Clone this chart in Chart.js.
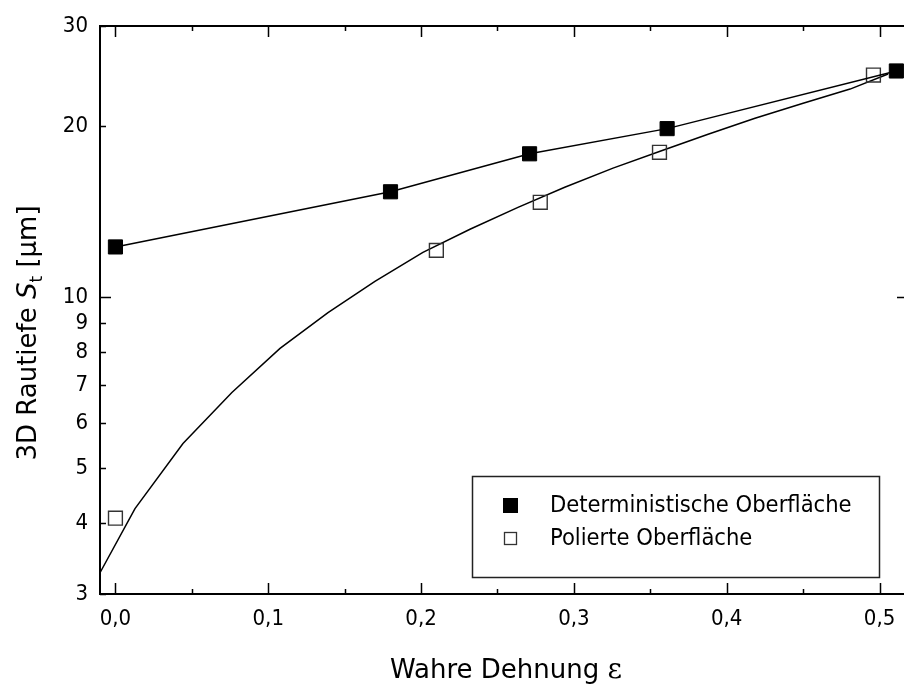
<!DOCTYPE html>
<html>
<head>
<meta charset="utf-8">
<title>3D Rautiefe</title>
<script src="https://cdn.jsdelivr.net/npm/chart.js"></script>
<style>
  html, body { margin: 0; padding: 0; background: #fff; }
  #wrap { width: 904px; height: 684px; }
</style>
</head>
<body>
<div id="wrap"><canvas id="rauChart" width="904" height="684"></canvas></div>
<script>
// measured points
const detStrain = [0.0, 0.18, 0.271, 0.361, 0.511];
const detDepth = [12.25, 15.32, 17.87, 19.79, 25.0];
const polStrain = [0.0, 0.21, 0.278, 0.356, 0.496];
const polDepth = [4.08, 12.08, 14.68, 17.98, 24.59];
// fitted curve for the polished surface
const fitStrain = [-0.0101, 0.0128, 0.0442, 0.0762, 0.1077, 0.1391, 0.1698, 0.2012, 0.232,
                   0.2634, 0.294, 0.3256, 0.3564, 0.3878, 0.4185, 0.45, 0.4807, 0.5056];
const fitDepth = [3.27, 4.24, 5.52, 6.79, 8.12, 9.39, 10.65, 11.98, 13.16,
                  14.38, 15.6, 16.86, 18.06, 19.35, 20.64, 21.94, 23.23, 24.69];

const xTicks = [0, 0.1, 0.2, 0.3, 0.4, 0.5];
const xMinor = [0.05, 0.15, 0.25, 0.35, 0.45];
const yTicks = [3, 4, 5, 6, 7, 8, 9, 10, 20, 30];
const seriesNames = ['Deterministische Oberfläche', 'Polierte Oberfläche'];

const SANS = "'DejaVu Sans Condensed', 'DejaVu Sans', sans-serif";
const TITLE = "'DejaVu Sans', sans-serif";

function pts(xs, ys) {
    return xs.map((x, i) => ({ x: x, y: ys[i] }));
}

// axis frame with inward ticks
const framePlugin = {
    id: 'frame',
    afterDatasetsDraw(chart) {
        const { ctx, chartArea: a, scales: { x, y } } = chart;
        ctx.save();
        ctx.strokeStyle = '#000';
        ctx.lineWidth = 2;
        ctx.beginPath();
        ctx.moveTo(a.right, a.top);
        ctx.lineTo(a.left, a.top);
        ctx.lineTo(a.left, a.bottom);
        ctx.lineTo(a.right, a.bottom);
        ctx.stroke();

        ctx.lineWidth = 1.5;
        ctx.beginPath();
        xTicks.forEach(v => {
            const px = Math.round(x.getPixelForValue(v)) + 0.5;
            ctx.moveTo(px, a.bottom); ctx.lineTo(px, a.bottom - 11);
            ctx.moveTo(px, a.top); ctx.lineTo(px, a.top + 11);
        });
        xMinor.forEach(v => {
            const px = Math.round(x.getPixelForValue(v)) + 0.5;
            ctx.moveTo(px, a.bottom); ctx.lineTo(px, a.bottom - 5);
            ctx.moveTo(px, a.top); ctx.lineTo(px, a.top + 5);
        });
        yTicks.forEach(v => {
            const py = Math.round(y.getPixelForValue(v)) + 0.5;
            const len = v === 10 ? 11 : 6;
            ctx.moveTo(a.left, py); ctx.lineTo(a.left + len, py);
        });
        const p10 = Math.round(y.getPixelForValue(10)) + 0.5;
        ctx.moveTo(a.right, p10); ctx.lineTo(a.right - 7, p10);
        ctx.stroke();
        ctx.restore();
    }
};

// legend box and axis titles
const labelPlugin = {
    id: 'labels',
    afterDraw(chart) {
        const { ctx } = chart;
        ctx.save();

        // legend
        const bx = 472.5, by = 476.5, bw = 407, bh = 101;
        ctx.strokeStyle = '#222';
        ctx.lineWidth = 1.5;
        ctx.strokeRect(bx, by, bw, bh);
        ctx.fillStyle = '#000';
        ctx.fillRect(503, 498, 15, 15);
        ctx.strokeStyle = '#333';
        ctx.lineWidth = 1.3;
        ctx.strokeRect(504.5, 532.5, 12, 12);
        ctx.font = '23.5px ' + SANS;
        ctx.fillStyle = '#000';
        ctx.textBaseline = 'middle';
        ctx.textAlign = 'left';
        ctx.fillText(seriesNames[0], 550, 506);
        ctx.fillText(seriesNames[1], 550, 539);

        // x title
        ctx.textBaseline = 'alphabetic';
        const xMain = 'Wahre Dehnung ';
        ctx.font = '26px ' + TITLE;
        const w1 = ctx.measureText(xMain).width;
        ctx.font = '28px "DejaVu Serif", serif';
        const w2 = ctx.measureText('ε').width;
        const sx = 506 - (w1 + w2) / 2;
        ctx.font = '26px ' + TITLE;
        ctx.fillText(xMain, sx, 678);
        ctx.font = '28px "DejaVu Serif", serif';
        ctx.fillText('ε', sx + w1, 678);

        // y title, rotated
        ctx.translate(36, 333);
        ctx.rotate(-Math.PI / 2);
        const parts = [
            { t: '3D Rautiefe ', f: '26px ' + TITLE, dy: 0 },
            { t: 'S', f: 'italic 26px ' + TITLE, dy: 0 },
            { t: 't', f: '17px ' + TITLE, dy: 6 },
            { t: ' [µm]', f: '26px ' + TITLE, dy: 0 }
        ];
        let total = 0;
        parts.forEach(p => { ctx.font = p.f; p.w = ctx.measureText(p.t).width; total += p.w; });
        let cx = -total / 2;
        parts.forEach(p => {
            ctx.font = p.f;
            ctx.fillText(p.t, cx, p.dy);
            cx += p.w;
        });
        ctx.restore();
    }
};

const ctx = document.getElementById('rauChart').getContext('2d');

new Chart(ctx, {
    type: 'scatter',
    data: {
        datasets: [
            {
                label: seriesNames[0],
                data: pts(detStrain, detDepth),
                showLine: true,
                borderColor: '#000',
                borderWidth: 1.5,
                pointStyle: 'rect',
                pointRadius: 10,
                pointBackgroundColor: '#000',
                pointBorderColor: '#000',
                pointBorderWidth: 1
            },
            {
                label: seriesNames[1],
                data: pts(polStrain, polDepth),
                showLine: false,
                pointStyle: 'rect',
                pointRadius: 9.8,
                pointBackgroundColor: 'rgba(0,0,0,0)',
                pointBorderColor: '#333',
                pointBorderWidth: 1.4
            },
            {
                label: 'Fit',
                data: pts(fitStrain, fitDepth),
                showLine: true,
                borderColor: '#000',
                borderWidth: 1.5,
                pointRadius: 0,
                tension: 0
            }
        ]
    },
    options: {
        responsive: false,
        animation: false,
        clip: false,
        layout: { autoPadding: false, padding: { top: 26, right: 0, left: 0, bottom: 0 } },
        plugins: {
            legend: { display: false },
            tooltip: { enabled: false }
        },
        scales: {
            x: {
                type: 'linear',
                min: -0.0101,
                max: 0.516,
                afterBuildTicks: s => { s.ticks = xTicks.map(v => ({ value: v })); },
                afterFit: s => { s.height = 90; s.paddingLeft = 0; s.paddingRight = 0; },
                grid: { display: false, drawTicks: false },
                border: { display: false },
                ticks: {
                    autoSkip: false,
                    maxRotation: 0,
                    color: '#000',
                    padding: 12,
                    font: { family: SANS, size: 22 },
                    callback: v => v.toFixed(1).replace('.', ',')
                }
            },
            y: {
                type: 'logarithmic',
                min: 3,
                max: 30,
                afterBuildTicks: s => { s.ticks = yTicks.map(v => ({ value: v })); },
                afterFit: s => { s.width = 100; s.paddingTop = 0; s.paddingBottom = 0; },
                grid: { display: false, drawTicks: false },
                border: { display: false },
                ticks: {
                    autoSkip: false,
                    color: '#000',
                    padding: 12,
                    font: { family: SANS, size: 22 },
                    callback: v => String(v)
                }
            }
        }
    },
    plugins: [framePlugin, labelPlugin]
});
</script>
</body>
</html>
